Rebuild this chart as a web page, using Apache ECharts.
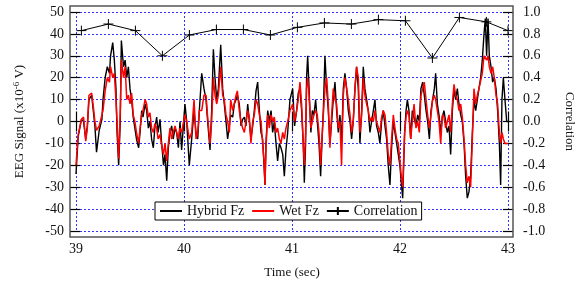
<!DOCTYPE html>
<html>
<head>
<meta charset="utf-8">
<script src="https://cdn.jsdelivr.net/npm/echarts@6/dist/echarts.min.js"></script>
<style>
  html, body { margin: 0; padding: 0; background: #fff; }
  #main { width: 577px; height: 288px; }
</style>
</head>
<body>
<div id="main"></div>
<script>
// time in sec, signals in x10^-6 V
var timeSec = [
  39.000, 39.020, 39.050, 39.070, 39.090, 39.105, 39.120, 39.145, 39.160, 39.175,
  39.190, 39.215, 39.240, 39.250, 39.270, 39.290, 39.310, 39.320, 39.340, 39.355,
  39.370, 39.380, 39.395, 39.410, 39.420, 39.440, 39.455, 39.470, 39.485, 39.500,
  39.515, 39.530, 39.545, 39.560, 39.580, 39.593, 39.608, 39.620, 39.640, 39.654,
  39.670, 39.685, 39.700, 39.716, 39.730, 39.747, 39.760, 39.778, 39.790, 39.810,
  39.824, 39.840, 39.855, 39.870, 39.886, 39.900, 39.917, 39.932, 39.948,
  39.963, 39.978, 40.009, 40.025, 40.049, 40.071, 40.093, 40.111, 40.127, 40.142,
  40.164, 40.185, 40.204, 40.219, 40.241, 40.256, 40.272, 40.287, 40.303, 40.318,
  40.340, 40.358, 40.373, 40.389, 40.404, 40.420, 40.432, 40.451, 40.466, 40.482,
  40.494, 40.512, 40.528, 40.543, 40.559, 40.574, 40.590, 40.605, 40.620, 40.636,
  40.651, 40.667, 40.682, 40.698, 40.713, 40.728, 40.741, 40.750, 40.759, 40.775,
  40.790, 40.806, 40.821, 40.836, 40.852, 40.867, 40.883, 40.898, 40.914, 40.929,
  40.944, 40.960,
  40.981, 41.006, 41.024, 41.043, 41.058, 41.074, 41.089, 41.104, 41.114, 41.126,
  41.135, 41.145, 41.154, 41.166, 41.175, 41.188, 41.203, 41.219, 41.234, 41.250,
  41.265, 41.277, 41.290, 41.305, 41.321, 41.336, 41.351, 41.367, 41.382, 41.398,
  41.413, 41.429, 41.444, 41.459, 41.475, 41.490, 41.506, 41.521, 41.537, 41.552,
  41.567, 41.583, 41.598, 41.614, 41.629, 41.645, 41.660, 41.675, 41.691, 41.706,
  41.722, 41.737, 41.753, 41.768, 41.783, 41.799, 41.814, 41.830, 41.845, 41.861,
  41.876, 41.891, 41.907, 41.922, 41.938, 41.953, 41.969, 41.984, 41.999, 42.012,
  42.025,
  42.043, 42.056, 42.068, 42.083, 42.099, 42.114, 42.130, 42.148, 42.164, 42.179,
  42.194, 42.210, 42.225, 42.241, 42.256, 42.272, 42.287, 42.302, 42.318, 42.330,
  42.346, 42.361, 42.377, 42.392, 42.407, 42.423, 42.438, 42.454, 42.469, 42.485,
  42.500, 42.515, 42.531, 42.546, 42.562, 42.577, 42.593, 42.608, 42.623, 42.639,
  42.654, 42.670, 42.685, 42.701, 42.716, 42.731, 42.747, 42.762, 42.778, 42.790,
  42.802, 42.815, 42.827, 42.843, 42.858, 42.873, 42.889, 42.904, 42.920, 42.932,
  42.944, 42.957, 42.972, 42.988, 43.000
];
var hybridFz = [
  -24, -7, 1, 0, -8, -2, 10, 12, 5, -2,
  -14, -4, 1, 10, 20, 25, 22, 30, 36, 28,
  15, -5, -20, 0, 37, 25, 28, 20, 25, 15,
  10, 2, -3, -8, -12, -5, 5, 2, 8, 5,
  -3, 0, -8, -12, -3, 2, -5, 1, -8, -20,
  -15, -27, -12, -5, -2, -8, -3, -5, -12,
  0, -13, 8, 0, -20, -8, 5, -5, -8, 5,
  22, 15, 10, 0, -13, 5, 33, 20, 10, 15,
  35, 15, 8, 0, -8, -2, 3, 2, 8, 10,
  12, 8, -2, 1, 2, -2, 8, 0, -8, -2,
  5, 14, 18, 5, -5, -8, -20, -29, -10, 5,
  0, 5, -5, 0, -10, -18, -10, -12, -15, -25,
  -13, -5,
  10, 15, -2, 5, 13, 15, 5, -10, -28, -10,
  20, 30, 20, 5, -5, 5, 3, 10, 0, -10,
  -25, -10, 5, 30, 15, 5, -10, 0, 10, 18,
  5, -5, 3, -10, 15, 22, 15, 5, 0, -8,
  0, 15, 25, 15, -10, 5, 25, 15, 10, 5,
  -5, 0, 5, 10, -2, -5, -10, 0, 5, -2,
  -8, -20, -29, -12, 0, -5, -10, -15, -20, -28,
  -35,
  -5, 5, 10, 5, -8, 5, 5, -2, 3, 0,
  15, 18, 12, 5, 0, -8, 5, 10, 15, 22,
  8, 3, -5, 2, 5, 0, -5, -2, -15, 5,
  15, 10, 15, 8, 3, 0, -10, -25, -35, -32,
  -25, -5, 10, 5, 10, 15, 20, 28, 40, 47,
  30, 47, 30, 25, 18, 20, 15, 5, -10, -29,
  10, 20, 10, 0, 0
];
var wetFz = [
  -20, -6, 1, 2, -9, -3, 12, 13, 7, 0,
  -4, -2, 3, 5, 14, 20, 18, 25, 20, 22,
  10, 0, -17, 5, 28, 20, 25, 10, 12, 8,
  13, 3, 0, -5, -10, -3, 3, 5, 10, 8,
  2, 4, -3, -5, -1, -3, -8, -6, -10, -15,
  -10, -18, -10, -3, -8, -5, -2, -5, -8,
  -3, -5, 3, 0, -8, -5, 10, -8, -5, 5,
  5, 12, 12, 2, -10, 0, 20, 12, 8, 12,
  25, 12, 10, 3, 0, -5, 10, 5, 5, 12,
  14, 5, 0, -3, -5, 0, 5, 2, -10, 0,
  3, 10, 8, 3, 0, -10, -18, -29, -12, 3,
  -3, 3, 0, 2, -5, -3, -8, -10, -5, -8,
  -3, 0,
  5, 8, 0, 5, 10, 18, 8, -10, -20, -5,
  15, 20, 15, 5, -3, 0, 3, 5, 3, -5,
  -20, -8, 3, 15, 20, 8, -12, 3, 15, 10,
  8, -3, 0, -20, 12, 20, 15, 10, 3, -5,
  0, 15, 25, 20, -5, 3, 20, 12, 8, 5,
  0, 2, 0, 5, 0, 0, -5, 2, 5, 3,
  -5, -15, -20, -8, 3, -3, -8, -10, -18, -25,
  -30,
  -5, 2, 5, 3, -8, 0, 8, -3, 0, -5,
  12, 15, 18, 10, 3, -3, 3, 10, 12, 10,
  5, 0, -10, 3, 2, -3, 0, 3, -5, 8,
  17, 12, 10, 5, 8, 2, -8, -20, -28, -25,
  -30, -8, 15, 8, 12, 15, 15, 22, 30, 30,
  28, 30, 25, 22, 25, 20, 12, 8, -5, -10,
  -5, -8, -10, -10, -10
];
var corrTime = [39.05, 39.3, 39.55, 39.8, 40.05, 40.3, 40.55, 40.8, 41.05,
                41.3, 41.55, 41.8, 42.05, 42.3, 42.55, 42.8, 43.0];
var corrValue = [0.83, 0.89, 0.83, 0.60, 0.79, 0.84, 0.84, 0.79, 0.86,
                 0.90, 0.89, 0.93, 0.92, 0.58, 0.95, 0.91, 0.83];

function pairs(xs, ys) {
  var out = [];
  for (var i = 0; i < xs.length; i++) out.push([xs[i], ys[i]]);
  return out;
}

var font = 'Liberation Serif';
var tickStyle = { show: true, inside: true, length: 10, lineStyle: { color: '#000', width: 1.2 } };
var gridLine = { show: true, lineStyle: { color: '#3333ff', type: [2, 2], width: 1 } };

var chart = echarts.init(document.getElementById('main'));
chart.setOption({
  animation: false,
  backgroundColor: '#fff',
  grid: { left: 76, right: 69, top: 12, bottom: 57, containLabel: false, outerBoundsMode: 'none' },
  graphic: [{
    type: 'rect',
    shape: { x: 70, y: 6, width: 443, height: 231 },
    style: { fill: 'none', stroke: '#555', lineWidth: 1.5 },
    z: 100
  }],
  legend: {
    left: 155, top: 202,
    padding: [2, 4],
    backgroundColor: '#fff',
    borderColor: '#000',
    borderWidth: 1,
    borderRadius: 0,
    itemWidth: 22, itemHeight: 10, itemGap: 7,
    textStyle: { fontFamily: font, fontSize: 14, color: '#111' },
    data: [
      { name: 'Hybrid Fz', itemStyle: { opacity: 0 } },
      { name: 'Wet Fz', itemStyle: { opacity: 0 } },
      { name: 'Correlation' }
    ]
  },
  xAxis: [{
    type: 'value', min: 39, max: 43, interval: 1,
    position: 'bottom', offset: 6,
    axisLine: { show: false },
    axisTick: tickStyle,
    splitLine: gridLine,
    axisLabel: { fontFamily: font, fontSize: 14, color: '#111', margin: 5 },
    name: 'Time (sec)', nameLocation: 'middle', nameGap: 29,
    nameTextStyle: { fontFamily: font, fontSize: 13, color: '#111' }
  }, {
    type: 'value', min: 39, max: 43, interval: 1,
    position: 'top', offset: 6,
    axisLine: { show: false },
    axisTick: tickStyle,
    splitLine: { show: false },
    axisLabel: { show: false }
  }],
  yAxis: [{
    type: 'value', min: -50, max: 50, interval: 10,
    position: 'left', offset: 6,
    axisLine: { show: false },
    axisTick: tickStyle,
    splitLine: gridLine,
    axisLabel: { fontFamily: font, fontSize: 14, color: '#111', margin: 6 },
    name: 'EEG Signal (x10{sup|-6} V)', nameLocation: 'middle', nameGap: 43,
    nameTextStyle: {
      fontFamily: font, fontSize: 13, color: '#111',
      rich: { sup: { fontFamily: font, fontSize: 9, color: '#111', verticalAlign: 'top', padding: [0, 0, 6, 0] } }
    }
  }, {
    type: 'value', min: -1, max: 1, interval: 0.2,
    position: 'right', offset: 5,
    axisLine: { show: false },
    axisTick: tickStyle,
    splitLine: { show: false },
    axisLabel: {
      fontFamily: font, fontSize: 14, color: '#111', margin: 10,
      formatter: function (v) { return v.toFixed(1); }
    },
    name: 'Correlation', nameLocation: 'middle', nameGap: 50, nameRotate: -90,
    nameTextStyle: { fontFamily: font, fontSize: 13, color: '#111' }
  }],
  series: [{
    name: 'Hybrid Fz', type: 'line', xAxisIndex: 0, yAxisIndex: 0,
    symbol: 'none', data: pairs(timeSec, hybridFz),
    lineStyle: { color: '#000', width: 1.4 }, itemStyle: { color: '#000' }
  }, {
    name: 'Wet Fz', type: 'line', xAxisIndex: 0, yAxisIndex: 0,
    symbol: 'none', data: pairs(timeSec, wetFz),
    lineStyle: { color: '#ff0000', width: 1.5 }, itemStyle: { color: '#ff0000' }
  }, {
    name: 'Correlation', type: 'line', xAxisIndex: 0, yAxisIndex: 1,
    symbol: 'path://M5,0L5,10M0,5L10,5', symbolSize: 10,
    data: pairs(corrTime, corrValue),
    lineStyle: { color: '#000', width: 1 },
    itemStyle: { color: '#000', borderColor: '#000', borderWidth: 1 }
  }]
});
</script>
</body>
</html>
